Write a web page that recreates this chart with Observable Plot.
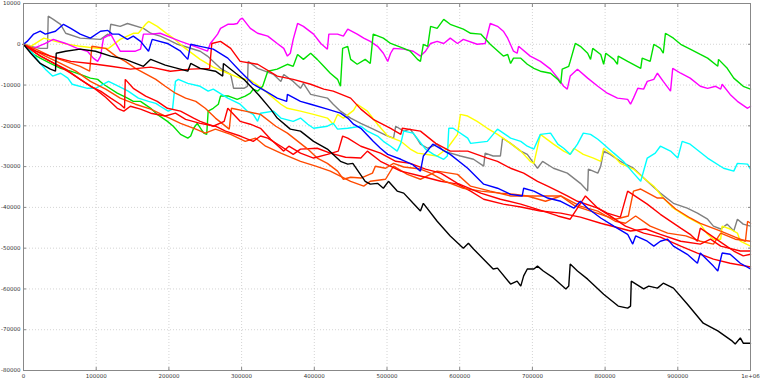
<!DOCTYPE html>
<html>
<head>
<meta charset="utf-8">
<script src="https://cdn.jsdelivr.net/npm/d3@7"></script>
<script src="https://cdn.jsdelivr.net/npm/@observablehq/plot@0.6"></script>
<style>
  html, body { margin: 0; padding: 0; background: #fff; }
  #chart svg { display: block; }
</style>
</head>
<body>
<div id="chart"></div>
<script>
// Tick values
const xTicks = [0, 100000, 200000, 300000, 400000, 500000, 600000, 700000, 800000, 900000, 1000000];
const yTicks = [-80000, -70000, -60000, -50000, -40000, -30000, -20000, -10000, 0, 10000];

// Series: [step, value]
const black = [[0,0],[10e3,-2.2e3],[23e3,-4.7e3],[37e3,-6.1e3],[44e3,-6.6e3],[45e3,-2.2e3],[58e3,-1.7e3],[78e3,-1.2e3],[99e3,-1.7e3],[120e3,-2.9e3],[140e3,-3.7e3],[165e3,-5.4e3],[175e3,-3.7e3],[195e3,-5.1e3],[226e3,-6.6e3],[230e3,-4.7e3],[243e3,-5.9e3],[264e3,-6.6e3],[274e3,-7.8e3],[275e3,-4.7e3],[292e3,-7.1e3],[303e3,-8.6e3],[323e3,-12.3e3],[340e3,-15.9e3],[349e3,-18.1e3],[367e3,-20.8e3],[381e3,-21.3e3],[399e3,-23.8e3],[418e3,-25.7e3],[436e3,-28.7e3],[446e3,-29.4e3],[453e3,-29.2e3],[470e3,-33.6e3],[477e3,-34.3e3],[487e3,-34.1e3],[495e3,-35.3e3],[502e3,-33.6e3],[514e3,-36.0e3],[523e3,-36.5e3],[536e3,-39.0e3],[546e3,-40.9e3],[550e3,-39.0e3],[569e3,-43.4e3],[587e3,-47.0e3],[605e3,-50.0e3],[612e3,-48.8e3],[619e3,-50.2e3],[646e3,-55.1e3],[652e3,-54.9e3],[670e3,-58.8e3],[679e3,-58.1e3],[684e3,-59.3e3],[688e3,-56.8e3],[693e3,-55.1e3],[702e3,-55.1e3],[707e3,-54.4e3],[715e3,-55.6e3],[729e3,-57.3e3],[746e3,-60.0e3],[750e3,-59.3e3],[752e3,-53.9e3],[762e3,-55.6e3],[776e3,-57.6e3],[798e3,-61.3e3],[818e3,-64.2e3],[831e3,-64.7e3],[835e3,-64.2e3],[836e3,-58.1e3],[853e3,-60.0e3],[860e3,-59.3e3],[872e3,-59.8e3],[880e3,-58.6e3],[894e3,-59.8e3],[913e3,-63.7e3],[935e3,-68.4e3],[955e3,-70.3e3],[975e3,-72.8e3],[979e3,-73.5e3],[986e3,-72.0e3],[990e3,-73.3e3],[1000e3,-73.3e3]];

const blue = [[0,0],[5e3,0.7e3],[14e3,2.5e3],[23e3,3.2e3],[30e3,2.5e3],[44e3,3.2e3],[55e3,4.9e3],[65e3,3.9e3],[78e3,2.5e3],[92e3,1.5e3],[106e3,3.2e3],[116e3,3.4e3],[122e3,2.5e3],[131e3,2.5e3],[143e3,1.2e3],[151e3,2.0e3],[161e3,0.7e3],[172e3,-1.7e3],[177e3,1.2e3],[198e3,0.2e3],[216e3,-1.7e3],[226e3,-3.7e3],[230e3,0],[243e3,-0.5e3],[261e3,-1.2e3],[281e3,-3.4e3],[298e3,-6.6e3],[316e3,-9.8e3],[333e3,-11.5e3],[349e3,-13.2e3],[362e3,-14.0e3],[363e3,-12.3e3],[381e3,-14.0e3],[395e3,-14.7e3],[418e3,-15.9e3],[436e3,-16.9e3],[446e3,-18.1e3],[454e3,-19.6e3],[464e3,-20.6e3],[481e3,-23.8e3],[491e3,-25.5e3],[501e3,-27.0e3],[519e3,-28.2e3],[536e3,-29.6e3],[546e3,-31.1e3],[550e3,-27.4e3],[563e3,-24.5e3],[587e3,-27.0e3],[611e3,-30.4e3],[633e3,-34.3e3],[652e3,-35.3e3],[670e3,-36.8e3],[686e3,-37.2e3],[688e3,-35.3e3],[702e3,-36.0e3],[721e3,-37.7e3],[739e3,-38.5e3],[757e3,-40.2e3],[766e3,-38.5e3],[776e3,-40.2e3],[794e3,-42.6e3],[812e3,-44.6e3],[831e3,-46.6e3],[838e3,-49.0e3],[842e3,-47.0e3],[858e3,-48.3e3],[867e3,-49.5e3],[876e3,-48.3e3],[886e3,-47.8e3],[894e3,-49.5e3],[913e3,-51.5e3],[927e3,-53.7e3],[931e3,-51.2e3],[949e3,-54.4e3],[955e3,-55.6e3],[961e3,-51.2e3],[972e3,-51.5e3],[986e3,-53.7e3],[1000e3,-55.1e3]];

const gray = [[0,0.2e3],[10e3,-0.5e3],[23e3,-1.0e3],[33e3,-1.0e3],[34e3,6.9e3],[41e3,6.1e3],[51e3,4.9e3],[58e3,2.7e3],[78e3,1.5e3],[106e3,1.2e3],[116e3,2.5e3],[118e3,2.0e3],[120e3,4.9e3],[133e3,4.4e3],[143e3,5.1e3],[165e3,3.9e3],[175e3,2.7e3],[188e3,2.0e3],[198e3,1.2e3],[212e3,0],[243e3,-1.7e3],[253e3,-2.9e3],[261e3,-4.2e3],[271e3,-5.9e3],[285e3,-7.4e3],[289e3,-10.8e3],[303e3,-10.8e3],[308e3,-10.3e3],[309e3,-4.2e3],[322e3,-5.9e3],[344e3,-7.4e3],[354e3,-9.1e3],[358e3,-7.4e3],[371e3,-9.1e3],[381e3,-10.8e3],[385e3,-9.6e3],[395e3,-12.3e3],[418e3,-13.2e3],[426e3,-14.7e3],[436e3,-16.4e3],[450e3,-18.1e3],[464e3,-19.4e3],[481e3,-20.8e3],[501e3,-22.5e3],[509e3,-23.0e3],[512e3,-20.1e3],[523e3,-21.3e3],[532e3,-20.8e3],[542e3,-23.3e3],[546e3,-24.5e3],[556e3,-25.5e3],[569e3,-24.5e3],[578e3,-26.2e3],[601e3,-27.4e3],[619e3,-28.2e3],[633e3,-29.9e3],[635e3,-26.7e3],[646e3,-27.4e3],[656e3,-27.4e3],[659e3,-23.0e3],[670e3,-24.3e3],[684e3,-26.2e3],[693e3,-27.0e3],[702e3,-29.2e3],[707e3,-30.4e3],[714e3,-28.7e3],[729e3,-30.4e3],[748e3,-31.6e3],[766e3,-34.1e3],[776e3,-36.0e3],[777e3,-30.6e3],[790e3,-31.6e3],[794e3,-29.9e3],[798e3,-26.2e3],[807e3,-27.0e3],[821e3,-28.7e3],[839e3,-30.4e3],[858e3,-33.6e3],[876e3,-36.5e3],[894e3,-39.0e3],[913e3,-40.2e3],[927e3,-41.4e3],[941e3,-42.9e3],[949e3,-44.6e3],[959e3,-45.3e3],[968e3,-44.1e3],[977e3,-45.8e3],[982e3,-42.9e3],[990e3,-44.1e3],[1000e3,-44.6e3]];

const yellow = [[0,0],[10e3,-0.5e3],[28e3,1.5e3],[44e3,0.7e3],[61e3,0],[78e3,-0.5e3],[102e3,-1.0e3],[117e3,-1.0e3],[133e3,1.2e3],[151e3,2.7e3],[158e3,2.7e3],[168e3,4.9e3],[172e3,5.6e3],[184e3,4.4e3],[198e3,2.5e3],[206e3,1.5e3],[219e3,-0.5e3],[243e3,-3.7e3],[261e3,-5.6e3],[281e3,-7.1e3],[298e3,-8.3e3],[312e3,-8.8e3],[326e3,-10.5e3],[344e3,-13.2e3],[354e3,-14.7e3],[363e3,-15.7e3],[381e3,-16.4e3],[399e3,-17.2e3],[418e3,-18.1e3],[426e3,-19.6e3],[432e3,-17.2e3],[440e3,-18.1e3],[454e3,-16.2e3],[459e3,-14.7e3],[473e3,-16.4e3],[487e3,-19.6e3],[501e3,-22.5e3],[519e3,-23.8e3],[532e3,-25.7e3],[542e3,-26.7e3],[569e3,-27.4e3],[583e3,-25.5e3],[597e3,-22.1e3],[601e3,-17.2e3],[611e3,-17.6e3],[624e3,-18.9e3],[638e3,-20.6e3],[652e3,-22.1e3],[666e3,-23.8e3],[684e3,-26.2e3],[697e3,-28.7e3],[702e3,-29.2e3],[711e3,-22.1e3],[729e3,-24.5e3],[743e3,-26.2e3],[752e3,-27.0e3],[757e3,-25.5e3],[770e3,-27.0e3],[784e3,-27.9e3],[794e3,-28.7e3],[798e3,-25.5e3],[812e3,-27.4e3],[821e3,-29.2e3],[839e3,-30.6e3],[853e3,-32.8e3],[867e3,-34.8e3],[880e3,-37.7e3],[894e3,-40.2e3],[913e3,-42.4e3],[931e3,-44.1e3],[941e3,-46.6e3],[949e3,-47.8e3],[959e3,-47.8e3],[961e3,-44.6e3],[972e3,-45.3e3],[982e3,-46.3e3],[986e3,-48.3e3],[1000e3,-49.5e3]];

const magenta = [[0,0],[14e3,-1.0e3],[30e3,0.2e3],[41e3,1.2e3],[58e3,0.2e3],[74e3,-1.0e3],[88e3,-1.7e3],[96e3,-3.4e3],[102e3,-4.2e3],[106e3,-2.9e3],[110e3,1.5e3],[120e3,2.5e3],[127e3,0.2e3],[133e3,-1.7e3],[154e3,-1.7e3],[161e3,-1.2e3],[165e3,2.5e3],[175e3,2.5e3],[188e3,2.7e3],[202e3,1.7e3],[216e3,0.7e3],[243e3,-1.0e3],[253e3,-1.7e3],[257e3,0.2e3],[267e3,2.5e3],[271e3,3.9e3],[281e3,4.9e3],[289e3,4.9e3],[294e3,5.1e3],[298e3,6.1e3],[301e3,6.4e3],[312e3,3.9e3],[322e3,2.7e3],[336e3,2.0e3],[349e3,0.2e3],[358e3,-1.0e3],[363e3,-2.9e3],[367e3,-2.2e3],[371e3,1.2e3],[377e3,5.1e3],[385e3,4.4e3],[399e3,2.5e3],[409e3,0.2e3],[418e3,-1.2e3],[420e3,2.5e3],[432e3,2.5e3],[440e3,2.0e3],[446e3,3.7e3],[459e3,2.5e3],[468e3,1.5e3],[477e3,0.7e3],[487e3,-0.5e3],[495e3,-2.2e3],[501e3,-4.2e3],[505e3,-2.2e3],[509e3,-1.0e3],[523e3,-1.2e3],[536e3,-1.7e3],[546e3,-2.9e3],[553e3,-1.7e3],[560e3,0.2e3],[569e3,0.7e3],[578e3,0.2e3],[587e3,1.5e3],[597e3,0.2e3],[605e3,1.2e3],[624e3,0],[635e3,0.2e3],[642e3,5.1e3],[652e3,4.4e3],[660e3,3.2e3],[666e3,1.5e3],[674e3,-1.7e3],[679e3,-2.2e3],[681e3,-0.5e3],[697e3,-2.9e3],[711e3,-4.2e3],[725e3,-6.1e3],[735e3,-8.3e3],[743e3,-10.3e3],[748e3,-11.0e3],[752e3,-7.8e3],[762e3,-6.1e3],[776e3,-8.3e3],[790e3,-10.3e3],[803e3,-12.0e3],[817e3,-13.2e3],[831e3,-13.5e3],[835e3,-14.7e3],[839e3,-13.2e3],[845e3,-10.8e3],[853e3,-11.0e3],[858e3,-9.1e3],[867e3,-8.6e3],[872e3,-7.1e3],[880e3,-9.1e3],[890e3,-11.5e3],[893e3,-5.9e3],[904e3,-7.1e3],[917e3,-8.3e3],[931e3,-10.3e3],[941e3,-10.8e3],[952e3,-10.3e3],[959e3,-11.0e3],[961e3,-9.8e3],[972e3,-12.3e3],[982e3,-14.0e3],[996e3,-15.7e3],[1000e3,-15.2e3]];

const green = [[0,0],[7e3,-1.2e3],[14e3,-2.5e3],[23e3,-3.4e3],[37e3,-4.7e3],[51e3,-5.9e3],[65e3,-6.6e3],[78e3,-7.4e3],[92e3,-8.3e3],[102e3,-8.6e3],[110e3,-9.8e3],[129e3,-12.0e3],[143e3,-13.2e3],[151e3,-14.0e3],[161e3,-14.0e3],[175e3,-15.7e3],[184e3,-17.2e3],[198e3,-18.9e3],[206e3,-20.1e3],[216e3,-22.1e3],[226e3,-23.0e3],[230e3,-22.5e3],[234e3,-20.6e3],[239e3,-19.4e3],[248e3,-21.8e3],[252e3,-22.1e3],[254e3,-16.4e3],[261e3,-15.7e3],[268e3,-14.7e3],[271e3,-12.7e3],[282e3,-12.7e3],[294e3,-13.5e3],[305e3,-12.7e3],[312e3,-12.0e3],[316e3,-11.0e3],[322e3,-11.5e3],[329e3,-10.3e3],[336e3,-6.6e3],[349e3,-6.1e3],[363e3,-4.9e3],[371e3,-5.4e3],[377e3,-2.5e3],[385e3,-3.7e3],[395e3,-2.2e3],[404e3,-3.7e3],[413e3,-5.4e3],[422e3,-7.1e3],[432e3,-8.6e3],[436e3,-10.3e3],[439e3,-1.0e3],[446e3,-0.5e3],[450e3,-3.7e3],[459e3,-4.9e3],[470e3,-3.7e3],[477e3,-4.7e3],[481e3,2.5e3],[495e3,1.5e3],[505e3,0.2e3],[523e3,-1.0e3],[532e3,-1.7e3],[542e3,-3.7e3],[546e3,-4.2e3],[550e3,0],[556e3,-0.5e3],[560e3,4.4e3],[569e3,3.9e3],[578e3,6.1e3],[587e3,4.9e3],[605e3,3.7e3],[615e3,2.7e3],[629e3,2.5e3],[642e3,0],[660e3,-2.9e3],[666e3,-2.5e3],[670e3,-4.7e3],[674e3,-3.4e3],[684e3,-3.4e3],[693e3,-4.9e3],[702e3,-5.9e3],[711e3,-6.6e3],[725e3,-7.1e3],[735e3,-8.6e3],[739e3,-9.6e3],[741e3,-6.1e3],[750e3,-5.4e3],[752e3,-4.2e3],[759e3,0.2e3],[766e3,-0.5e3],[776e3,-2.2e3],[780e3,-3.7e3],[783e3,-1.0e3],[794e3,-2.5e3],[798e3,-4.9e3],[801e3,-2.2e3],[812e3,-3.7e3],[817e3,-4.9e3],[818e3,-2.9e3],[831e3,-4.2e3],[849e3,-5.9e3],[851e3,-3.4e3],[862e3,-4.2e3],[867e3,0],[876e3,-1.0e3],[880e3,-2.2e3],[883e3,2.7e3],[894e3,1.5e3],[904e3,0],[917e3,-1.2e3],[931e3,-2.5e3],[941e3,-3.4e3],[955e3,-5.4e3],[956e3,-3.7e3],[968e3,-5.9e3],[977e3,-8.3e3],[990e3,-10.3e3],[1000e3,-11.0e3]];

const cyan = [[0,0],[7e3,-1.2e3],[14e3,-2.5e3],[23e3,-4.7e3],[30e3,-6.1e3],[40e3,-7.8e3],[51e3,-7.1e3],[61e3,-8.3e3],[67e3,-9.8e3],[88e3,-10.8e3],[99e3,-10.8e3],[117e3,-9.1e3],[131e3,-10.3e3],[144e3,-11.5e3],[158e3,-13.2e3],[172e3,-14.0e3],[182e3,-14.5e3],[188e3,-15.2e3],[199e3,-16.4e3],[205e3,-15.9e3],[209e3,-9.1e3],[213e3,-8.6e3],[226e3,-9.6e3],[243e3,-10.3e3],[254e3,-11.5e3],[261e3,-11.0e3],[281e3,-13.2e3],[298e3,-14.7e3],[308e3,-16.4e3],[316e3,-17.2e3],[322e3,-18.9e3],[326e3,-16.9e3],[344e3,-16.4e3],[354e3,-18.1e3],[371e3,-18.9e3],[381e3,-18.1e3],[391e3,-19.6e3],[399e3,-20.6e3],[418e3,-20.1e3],[426e3,-19.4e3],[432e3,-20.8e3],[446e3,-20.6e3],[464e3,-20.1e3],[473e3,-21.3e3],[487e3,-22.5e3],[495e3,-23.8e3],[505e3,-25.0e3],[514e3,-26.2e3],[519e3,-24.3e3],[523e3,-21.3e3],[536e3,-21.8e3],[553e3,-25.7e3],[564e3,-27.0e3],[578e3,-28.2e3],[583e3,-27.4e3],[585e3,-20.6e3],[591e3,-20.6e3],[611e3,-23.0e3],[615e3,-24.3e3],[638e3,-23.8e3],[652e3,-20.8e3],[670e3,-23.0e3],[684e3,-23.8e3],[693e3,-25.0e3],[702e3,-25.7e3],[711e3,-22.1e3],[725e3,-21.8e3],[735e3,-24.5e3],[743e3,-25.5e3],[752e3,-27.0e3],[762e3,-24.5e3],[770e3,-21.8e3],[780e3,-22.1e3],[790e3,-23.3e3],[798e3,-24.5e3],[812e3,-26.7e3],[825e3,-28.7e3],[839e3,-31.6e3],[849e3,-33.6e3],[858e3,-27.9e3],[869e3,-26.7e3],[876e3,-25.0e3],[890e3,-26.2e3],[900e3,-27.9e3],[906e3,-23.8e3],[917e3,-24.5e3],[941e3,-27.9e3],[963e3,-30.4e3],[977e3,-31.1e3],[982e3,-29.2e3],[996e3,-29.4e3],[1000e3,-30.6e3]];

const red1 = [[0,0],[17e3,-1.7e3],[37e3,-2.9e3],[65e3,-4.2e3],[92e3,-4.7e3],[120e3,-5.4e3],[147e3,-6.1e3],[175e3,-5.6e3],[202e3,-6.6e3],[230e3,-6.1e3],[256e3,-5.9e3],[259e3,0.2e3],[271e3,0.7e3],[285e3,-1.0e3],[298e3,-4.2e3],[322e3,-4.9e3],[349e3,-7.8e3],[371e3,-8.6e3],[395e3,-9.8e3],[413e3,-11.0e3],[426e3,-11.5e3],[450e3,-13.2e3],[464e3,-15.9e3],[481e3,-18.4e3],[505e3,-20.6e3],[519e3,-22.1e3],[521e3,-20.6e3],[546e3,-21.3e3],[567e3,-24.3e3],[587e3,-26.2e3],[611e3,-26.2e3],[638e3,-27.9e3],[652e3,-28.7e3],[670e3,-30.4e3],[688e3,-31.6e3],[707e3,-33.6e3],[721e3,-34.8e3],[735e3,-36.0e3],[748e3,-37.2e3],[762e3,-38.5e3],[790e3,-40.2e3],[803e3,-41.4e3],[821e3,-42.4e3],[831e3,-36.0e3],[858e3,-39.2e3],[876e3,-41.7e3],[904e3,-45.1e3],[917e3,-46.6e3],[927e3,-48.3e3],[931e3,-45.1e3],[963e3,-49.0e3],[977e3,-50.7e3],[990e3,-51.9e3],[1000e3,-51.5e3]];

const red2 = [[0,0],[10e3,-1.2e3],[23e3,-2.9e3],[37e3,-4.2e3],[51e3,-5.6e3],[65e3,-7.1e3],[78e3,-8.6e3],[92e3,-10.3e3],[106e3,-11.5e3],[120e3,-13.2e3],[133e3,-14.7e3],[139e3,-15.7e3],[140e3,-8.6e3],[151e3,-10.8e3],[168e3,-12.7e3],[184e3,-14.0e3],[198e3,-15.7e3],[216e3,-16.4e3],[234e3,-18.1e3],[243e3,-18.9e3],[261e3,-20.1e3],[276e3,-18.9e3],[281e3,-15.7e3],[298e3,-18.9e3],[312e3,-19.6e3],[326e3,-20.6e3],[340e3,-23.3e3],[358e3,-26.2e3],[365e3,-25.0e3],[381e3,-26.7e3],[399e3,-27.9e3],[418e3,-27.0e3],[433e3,-26.2e3],[439e3,-22.5e3],[446e3,-23.0e3],[464e3,-25.0e3],[491e3,-26.7e3],[512e3,-28.7e3],[532e3,-29.2e3],[553e3,-30.6e3],[574e3,-31.6e3],[597e3,-34.1e3],[629e3,-36.5e3],[656e3,-38.0e3],[684e3,-39.2e3],[715e3,-40.9e3],[735e3,-42.1e3],[752e3,-42.9e3],[773e3,-37.2e3],[790e3,-40.2e3],[807e3,-42.1e3],[828e3,-44.6e3],[853e3,-46.3e3],[876e3,-47.3e3],[904e3,-49.5e3],[927e3,-51.2e3],[949e3,-52.7e3],[972e3,-53.7e3],[1000e3,-54.6e3]];

const red3 = [[0,0],[17e3,-2.2e3],[37e3,-4.2e3],[58e3,-6.1e3],[78e3,-8.6e3],[99e3,-11.0e3],[113e3,-13.0e3],[129e3,-15.7e3],[138e3,-16.4e3],[147e3,-15.2e3],[161e3,-15.9e3],[175e3,-16.9e3],[195e3,-17.6e3],[209e3,-16.9e3],[223e3,-18.4e3],[243e3,-19.4e3],[264e3,-20.1e3],[278e3,-21.3e3],[298e3,-22.5e3],[316e3,-23.8e3],[326e3,-22.5e3],[336e3,-23.0e3],[354e3,-25.0e3],[371e3,-27.0e3],[381e3,-25.7e3],[404e3,-25.5e3],[422e3,-26.7e3],[443e3,-27.7e3],[464e3,-27.9e3],[473e3,-26.2e3],[491e3,-28.7e3],[519e3,-31.1e3],[546e3,-32.3e3],[574e3,-33.6e3],[597e3,-34.3e3],[615e3,-36.0e3],[633e3,-38.0e3],[660e3,-39.2e3],[684e3,-39.9e3],[711e3,-40.9e3],[739e3,-41.4e3],[766e3,-42.4e3],[794e3,-43.9e3],[814e3,-44.8e3],[835e3,-45.8e3],[856e3,-45.3e3],[876e3,-46.6e3],[904e3,-48.3e3],[931e3,-49.0e3],[945e3,-47.8e3],[959e3,-49.5e3],[986e3,-50.7e3],[1000e3,-50.7e3]];

const orange1 = [[0,0],[17e3,-1.2e3],[37e3,-2.9e3],[58e3,-4.2e3],[78e3,-5.4e3],[91e3,-6.6e3],[94e3,-0.5e3],[113e3,-1.0e3],[127e3,-2.9e3],[140e3,-4.2e3],[154e3,-5.9e3],[182e3,-8.6e3],[195e3,-10.3e3],[209e3,-12.0e3],[223e3,-13.2e3],[237e3,-14.0e3],[250e3,-15.7e3],[264e3,-18.1e3],[283e3,-20.8e3],[286e3,-15.7e3],[305e3,-16.4e3],[326e3,-17.2e3],[347e3,-20.1e3],[363e3,-21.8e3],[391e3,-25.7e3],[404e3,-27.9e3],[418e3,-29.2e3],[432e3,-31.1e3],[440e3,-33.1e3],[450e3,-32.6e3],[464e3,-32.8e3],[480e3,-31.6e3],[484e3,-29.9e3],[498e3,-30.4e3],[509e3,-29.2e3],[523e3,-30.1e3],[546e3,-30.6e3],[560e3,-31.6e3],[580e3,-33.6e3],[605e3,-35.3e3],[629e3,-36.0e3],[656e3,-36.5e3],[677e3,-36.8e3],[693e3,-37.2e3],[711e3,-37.2e3],[739e3,-37.2e3],[759e3,-39.7e3],[794e3,-41.7e3],[814e3,-42.9e3],[832e3,-42.1e3],[839e3,-36.0e3],[849e3,-35.5e3],[872e3,-37.7e3],[880e3,-37.7e3],[897e3,-40.4e3],[917e3,-42.6e3],[931e3,-43.9e3],[959e3,-45.8e3],[979e3,-47.3e3],[993e3,-48.3e3],[996e3,-43.4e3],[1000e3,-43.9e3]];

const orange2 = [[0,0],[10e3,-1.0e3],[30e3,-2.9e3],[51e3,-4.7e3],[72e3,-6.6e3],[92e3,-9.1e3],[113e3,-11.0e3],[133e3,-13.2e3],[154e3,-14.7e3],[175e3,-15.9e3],[195e3,-17.6e3],[216e3,-19.4e3],[237e3,-20.8e3],[250e3,-21.8e3],[264e3,-20.8e3],[285e3,-22.1e3],[305e3,-23.8e3],[319e3,-23.0e3],[333e3,-25.0e3],[354e3,-26.7e3],[381e3,-28.7e3],[402e3,-29.9e3],[422e3,-31.1e3],[450e3,-33.6e3],[468e3,-34.8e3],[477e3,-33.6e3],[498e3,-33.1e3],[509e3,-29.9e3],[528e3,-31.9e3],[546e3,-33.1e3],[569e3,-31.1e3],[597e3,-31.9e3],[615e3,-34.8e3],[642e3,-36.0e3],[670e3,-37.2e3],[693e3,-37.2e3],[718e3,-38.5e3],[739e3,-37.2e3],[766e3,-39.7e3],[790e3,-40.9e3],[814e3,-43.4e3],[828e3,-43.9e3],[842e3,-42.1e3],[862e3,-44.6e3],[886e3,-46.3e3],[911e3,-47.0e3],[931e3,-48.3e3],[949e3,-49.0e3],[959e3,-46.3e3],[979e3,-47.8e3],[1000e3,-48.3e3]];

const seriesList = [
  {data: gray, color: "#808080"},
  {data: yellow, color: "#ffff00"},
  {data: magenta, color: "#ff00ff"},
  {data: green, color: "#00e000"},
  {data: cyan, color: "#00ffff"},
  {data: orange2, color: "#ff4a00"},
  {data: red3, color: "#ff0000"},
  {data: orange1, color: "#ff4a00"},
  {data: red2, color: "#ff0000"},
  {data: red1, color: "#ff0000"},
  {data: blue, color: "#0000ff"},
  {data: black, color: "#000000"}
];

const fmtX = d => d === 1000000 ? "1e+06" : String(d);
const fmtY = d => String(d);

const chart = Plot.plot({
  width: 760,
  height: 382,
  marginLeft: 23,
  marginRight: 10,
  marginTop: 3,
  marginBottom: 12,
  style: {background: "#fff", fontFamily: "DejaVu Sans, sans-serif"},
  x: {domain: [0, 1000000]},
  y: {domain: [-80000, 10000]},
  marks: [
    Plot.gridX(xTicks, {stroke: "#d4d4d4", strokeOpacity: 1, strokeDasharray: "1,2"}),
    Plot.gridY(yTicks, {stroke: "#d4d4d4", strokeOpacity: 1, strokeDasharray: "1,2"}),
    ...seriesList.map(s => Plot.line(s.data, {x: d => d[0], y: d => d[1], stroke: s.color, strokeWidth: 1.4, strokeLinejoin: "miter"})),
    Plot.frame({stroke: "#888", strokeWidth: 1}),
    Plot.axisX(xTicks, {anchor: "bottom", tickSize: -3, stroke: "#888", tickFormat: () => ""}),
    Plot.axisX(xTicks, {anchor: "top", tickSize: -3, stroke: "#888", tickFormat: () => ""}),
    Plot.axisY(yTicks, {anchor: "left", tickSize: -3, stroke: "#888", tickFormat: () => ""}),
    Plot.axisY(yTicks, {anchor: "right", tickSize: -3, stroke: "#888", tickFormat: () => ""}),
    Plot.axisX(xTicks, {anchor: "bottom", tickSize: 0, tickPadding: 4, tickFormat: fmtX, fontSize: 5.5, fill: "#333", label: null}),
    Plot.axisY(yTicks, {anchor: "left", tickSize: 0, tickPadding: 3, tickFormat: fmtY, fontSize: 5.5, fill: "#333", label: null})
  ]
});
document.getElementById("chart").appendChild(chart);
</script>
</body>
</html>
